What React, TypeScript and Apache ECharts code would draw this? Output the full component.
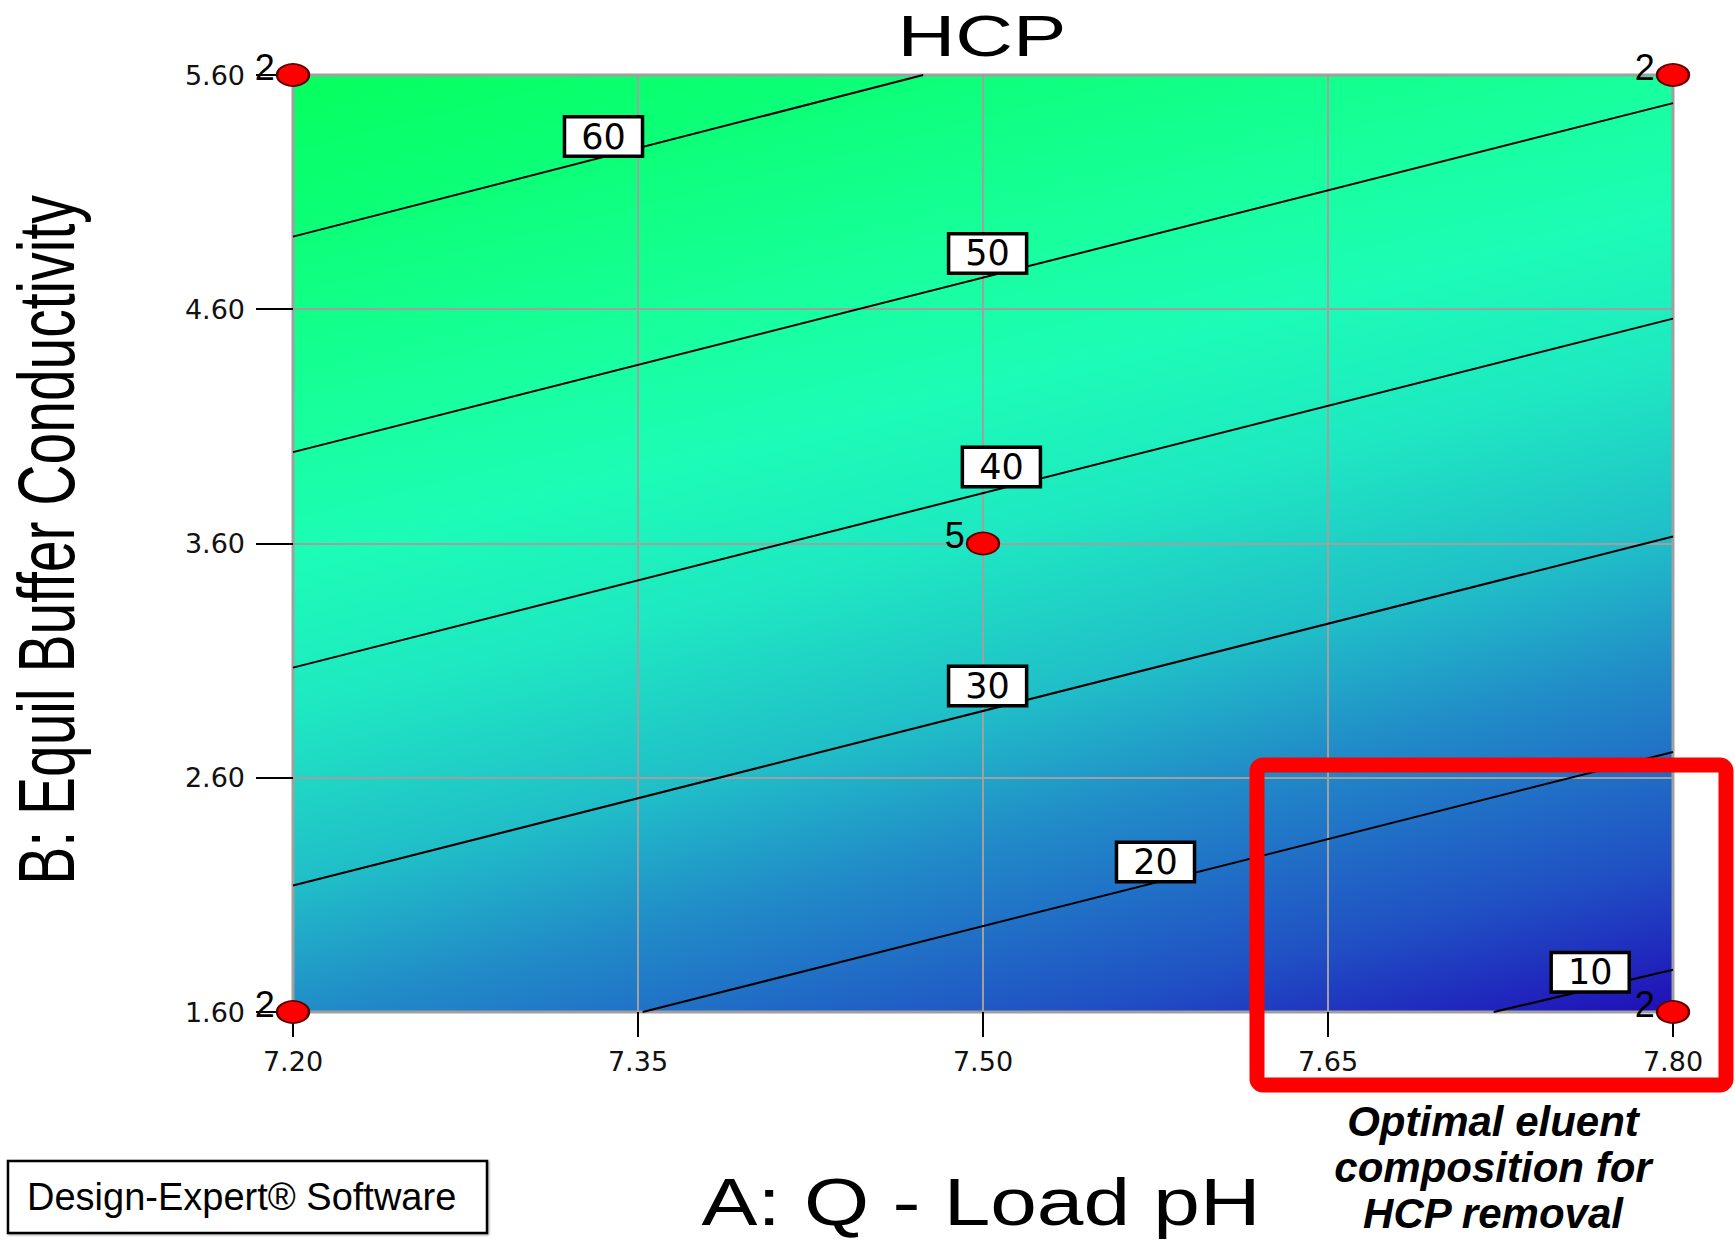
import React, { useEffect, useRef } from "react";
import * as echarts from "echarts";

// ---- Axis ranges / ticks ----
const A_MIN = 7.2;
const A_MAX = 7.8;
const A_STEP = 0.15;
const B_MIN = 1.6;
const B_MAX = 5.6;
const B_STEP = 1.0;

// ---- Contour lines (endpoints, [A, B]) ----
const contourLevels = [60, 50, 40, 30, 20, 10];
const contour60 = [[7.2, 4.91], [7.474, 5.6]];
const contour50 = [[7.2, 3.99], [7.8, 5.48]];
const contour40 = [[7.2, 3.07], [7.8, 4.56]];
const contour30 = [[7.2, 2.14], [7.8, 3.63]];
const contour20 = [[7.352, 1.6], [7.8, 2.71]];
const contour10 = [[7.722, 1.6], [7.8, 1.78]];
const contourLines = [contour60, contour50, contour40, contour30, contour20, contour10];

// ---- Contour label positions ----
const labelA = [7.335, 7.502, 7.508, 7.502, 7.575, 7.764];
const labelB = [5.337, 4.838, 3.927, 2.992, 2.24, 1.77];

// ---- Design points ----
const designA = [7.2, 7.8, 7.2, 7.8, 7.5];
const designB = [5.6, 5.6, 1.6, 1.6, 3.6];
const designRuns = [2, 2, 2, 2, 5];

// ---- Response at plot corners (for colour shading) ----
const hcpTopLeft = 67.4;
const hcpBottomRight = 8.0;
const shadeHCP = [67.4, 60, 51, 45, 38, 30, 24, 15, 8];
const shadeColors = [
  "#06ff5e",
  "#0cff78",
  "#18ff9e",
  "#1cfcb6",
  "#1ee8c2",
  "#20bec8",
  "#218cc8",
  "#2050c4",
  "#200eb8",
];

const annotationLines = ["Optimal eluent", "composition for", "HCP removal"];

export default function App() {
  const ref = useRef<HTMLDivElement>(null);

  useEffect(() => {
    if (!ref.current) return;
    const chart = echarts.init(ref.current, undefined, { renderer: "svg" });

    const lineSeries = contourLines.map((pts, i) => ({
      type: "line",
      name: "HCP " + contourLevels[i],
      data: pts.map((p) => [p[0] - A_MIN, p[1] - B_MIN]),
      symbol: "none",
      silent: true,
      clip: true,
      lineStyle: { color: "#000", width: 2 },
      z: 3,
    }));

    const option: any = {
      animation: false,
      backgroundColor: "#fff",
      textStyle: { fontFamily: "Liberation Sans" },
      grid: {
        left: 293,
        top: 75,
        right: 62,
        bottom: 230,
        show: true,
        backgroundColor: "#20c0c0",
        borderColor: "#a0a0a0",
        borderWidth: 3,
      },
      xAxis: {
        type: "value",
        min: 0,
        max: A_MAX - A_MIN,
        interval: A_STEP,
        axisLine: { show: false },
        axisTick: { show: true, length: 25, lineStyle: { color: "#000", width: 2 } },
        axisLabel: {
          margin: 36,
          fontSize: 27,
          fontFamily: "DejaVu Sans",
          color: "#111",
          formatter: (v: number) => (v + A_MIN).toFixed(2),
        },
        splitLine: { show: true, lineStyle: { color: "#a0a0a0", width: 2 } },
      },
      yAxis: {
        type: "value",
        min: 0,
        max: B_MAX - B_MIN,
        interval: B_STEP,
        axisLine: { show: false },
        axisTick: { show: true, length: 37, lineStyle: { color: "#000", width: 2 } },
        axisLabel: {
          margin: 48,
          fontSize: 27,
          fontFamily: "DejaVu Sans",
          color: "#111",
          formatter: (v: number) => (v + B_MIN).toFixed(2),
        },
        splitLine: { show: true, lineStyle: { color: "#a0a0a0", width: 2 } },
      },
      series: [
        ...lineSeries,
        {
          type: "scatter",
          name: "contour labels",
          data: labelA.map((a, i) => [a - A_MIN, labelB[i] - B_MIN, contourLevels[i]]),
          symbol: "rect",
          symbolSize: 1,
          itemStyle: { color: "rgba(0,0,0,0)", opacity: 1 },
          silent: true,
          clip: false,
          z: 4,
          label: {
            show: true,
            position: "inside",
            opacity: 1,
            formatter: (p: any) => String(p.value[2]),
            fontSize: 35,
            lineHeight: 32,
            fontFamily: "DejaVu Sans",
            color: "#000",
            backgroundColor: "#ffffff",
            borderColor: "#000",
            borderWidth: 3.5,
            padding: [3, 15, 1, 15],
          },
        },
        {
          type: "scatter",
          name: "design points",
          data: designA.map((a, i) => [a - A_MIN, designB[i] - B_MIN, designRuns[i]]),
          symbol: "circle",
          symbolSize: [32, 22],
          clip: false,
          silent: true,
          itemStyle: { color: "#ff0000", borderColor: "#5a0000", borderWidth: 2, opacity: 1 },
          z: 5,
          label: {
            show: true,
            position: "left",
            distance: 1,
            offset: [0, -8],
            opacity: 1,
            formatter: (p: any) => String(p.value[2]),
            fontSize: 36,
            fontFamily: "Liberation Sans",
            color: "#000",
          },
        },
      ],
      graphic: [
        {
          type: "text",
          x: 982,
          y: 36,
          scaleX: 1.38,
          z: 50,
          style: {
            text: "HCP",
            fontSize: 58,
            fontFamily: "Liberation Sans",
            fill: "#000",
            align: "center",
            verticalAlign: "middle",
          },
        },
        {
          type: "text",
          x: 981,
          y: 1202,
          scaleX: 1.27,
          z: 50,
          style: {
            text: "A: Q - Load pH",
            fontSize: 66,
            fontFamily: "Liberation Sans",
            fill: "#000",
            align: "center",
            verticalAlign: "middle",
          },
        },
        {
          type: "text",
          x: 46,
          y: 540,
          rotation: Math.PI / 2,
          scaleY: 1.4,
          z: 50,
          style: {
            text: "B: Equil Buffer Conductivity",
            fontSize: 57,
            fontFamily: "Liberation Sans",
            fill: "#000",
            align: "center",
            verticalAlign: "middle",
          },
        },
        {
          type: "rect",
          z: 50,
          shape: { x: 8, y: 1161, width: 479, height: 72 },
          style: {
            fill: "#fff",
            stroke: "#000",
            lineWidth: 2.5,
            shadowColor: "rgba(0,0,0,0.35)",
            shadowBlur: 2,
            shadowOffsetX: 1,
            shadowOffsetY: 1,
          },
        },
        {
          type: "text",
          x: 27,
          y: 1197,
          z: 51,
          style: {
            text: "Design-Expert® Software",
            fontSize: 38,
            fontFamily: "Liberation Sans",
            fill: "#000",
            align: "left",
            verticalAlign: "middle",
          },
        },
        {
          type: "rect",
          z: 60,
          shape: { x: 1257, y: 765, width: 469, height: 320, r: 6 },
          style: { fill: "none", stroke: "#ff0000", lineWidth: 15 },
        },
        ...annotationLines.map((t, i) => ({
          type: "text",
          x: 1493,
          y: 1121 + i * 46,
          z: 60,
          style: {
            text: t,
            fontSize: 42,
            fontWeight: "bold",
            fontStyle: "italic",
            fontFamily: "Liberation Sans",
            fill: "#000",
            align: "center",
            verticalAlign: "middle",
            shadowColor: "rgba(0,0,0,0.45)",
            shadowBlur: 4,
            shadowOffsetX: 3,
            shadowOffsetY: 3,
          },
        })),
      ],
    };

    chart.setOption(option);

    // Shade the plot area along the direction perpendicular to the contour lines
    const toPx = (a: number, b: number) =>
      chart.convertToPixel({ gridIndex: 0 }, [a - A_MIN, b - B_MIN]) as number[];
    const pTL = toPx(A_MIN, B_MAX);
    const pBR = toPx(A_MAX, B_MIN);
    const c0 = toPx(contour50[0][0], contour50[0][1]);
    const c1 = toPx(contour50[1][0], contour50[1][1]);
    const dx = c1[0] - c0[0];
    const dy = c1[1] - c0[1];
    const len = Math.hypot(dx, dy);
    const nx = -dy / len;
    const ny = dx / len;
    const proj = (pBR[0] - pTL[0]) * nx + (pBR[1] - pTL[1]) * ny;
    const span = hcpTopLeft - hcpBottomRight;
    const stops = shadeHCP.map((h, i) => ({
      offset: Math.min(1, Math.max(0, (hcpTopLeft - h) / span)),
      color: shadeColors[i],
    }));
    chart.setOption({
      grid: {
        backgroundColor: {
          type: "linear",
          x: pTL[0],
          y: pTL[1],
          x2: pTL[0] + nx * proj,
          y2: pTL[1] + ny * proj,
          colorStops: stops,
          global: true,
        },
      },
    });

    return () => chart.dispose();
  }, []);

  return (
    <div
      ref={ref}
      style={{
        position: "fixed",
        left: 0,
        top: 0,
        width: 1735,
        height: 1242,
        background: "#fff",
      }}
    />
  );
}
